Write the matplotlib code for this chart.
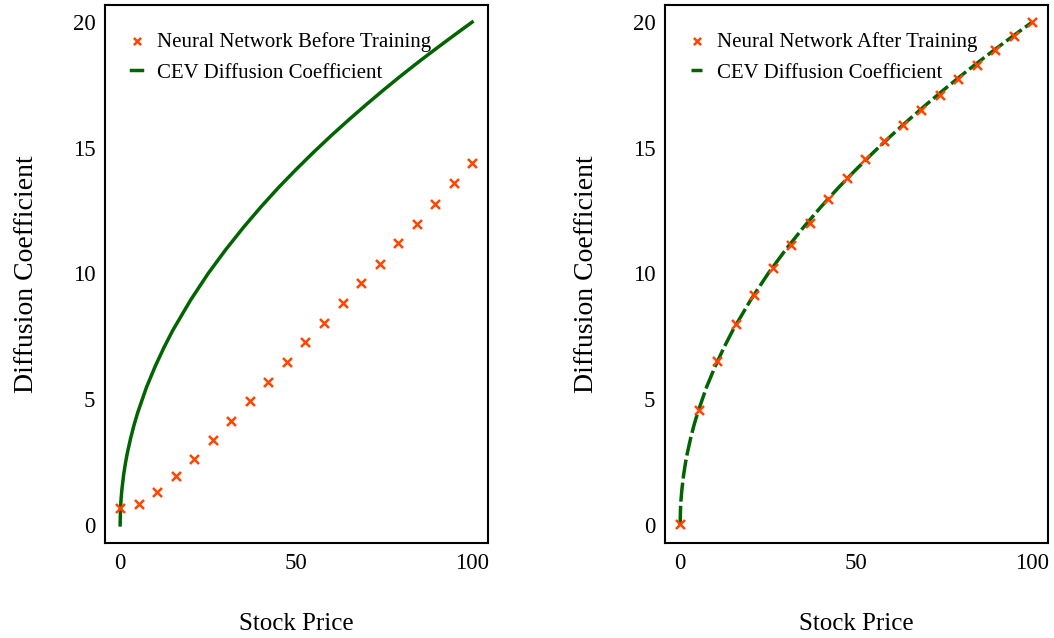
import matplotlib
matplotlib.use("Agg")
from matplotlib import pyplot as plt

plt.rcParams['font.family'] = ['Liberation Serif', 'DejaVu Serif']

# stock price grid for the network outputs
price_nn = [0, 5.3, 10.5, 15.8, 21.1, 26.3, 31.6, 36.8, 42.1, 47.4,
            52.6, 57.9, 63.2, 68.4, 73.7, 78.9, 84.2, 89.5, 94.7, 100]
nn_before = [0.68, 0.83, 1.31, 1.95, 2.62, 3.38, 4.13, 4.93, 5.69, 6.48,
             7.28, 8.03, 8.83, 9.62, 10.38, 11.21, 11.97, 12.76, 13.6, 14.39]
nn_after = [0.05, 4.57, 6.52, 7.99, 9.15, 10.2, 11.12, 12.02, 12.96, 13.8,
            14.55, 15.27, 15.9, 16.52, 17.1, 17.72, 18.3, 18.88, 19.45, 20.0]

# CEV diffusion coefficient curve
price_cev = [0, 0.1, 0.25, 0.5, 1, 1.5, 2, 3, 4, 5, 7.5, 10, 12.5, 15, 20, 25,
             30, 35, 40, 45, 50, 55, 60, 65, 70, 75, 80, 85, 90, 95, 100]
cev = [0, 0.63, 1.0, 1.41, 2.0, 2.45, 2.83, 3.46, 4.0, 4.47, 5.48, 6.32, 7.07,
       7.75, 8.94, 10.0, 10.95, 11.83, 12.65, 13.42, 14.14, 14.83, 15.49,
       16.12, 16.73, 17.32, 17.89, 18.44, 18.97, 19.49, 20.0]

labels = ['Neural Network Before Training', 'Neural Network After Training']
xticks = [0, 50, 100]
yticks = [0, 5, 10, 15, 20]

fig = plt.figure(figsize=(10.54, 6.38), dpi=100)
ax1 = fig.add_axes([105 / 1054, 95 / 638, 383 / 1054, 538 / 638])
ax2 = fig.add_axes([665 / 1054, 95 / 638, 383 / 1054, 538 / 638])

for ax, nn, lab, ls in [(ax1, nn_before, labels[0], '-'), (ax2, nn_after, labels[1], '--')]:
    ax.scatter(price_nn, nn, marker='x', color='#FF4500', s=42, linewidths=1.8,
               label=lab, zorder=3)
    if ls == '-':
        ax.plot(price_cev, cev, color='#006400', lw=2.5, label='CEV Diffusion Coefficient')
    else:
        ax.plot(price_cev, cev, color='#006400', lw=2.5, dashes=(5.5, 1.2),
                label='CEV Diffusion Coefficient')
    ax.set_xlim(-4.3, 104.5)
    ax.set_ylim(-0.72, 20.68)
    ax.set_xticks(xticks)
    ax.set_yticks(yticks)
    ax.tick_params(length=0, labelsize=16.5, pad=7)
    for sp in ax.spines.values():
        sp.set_linewidth(1.5)
    ax.set_xlabel('Stock Price', fontsize=18, labelpad=28)
    ax.set_ylabel('Diffusion Coefficient', fontsize=20, labelpad=24)
    ax.legend(loc='upper left', frameon=False, fontsize=15, handlelength=0.5,
              handletextpad=0.75, labelspacing=0.55, markerscale=0.8,
              bbox_to_anchor=(0.02, 0.985))

fig.savefig('out.png', dpi=100)
